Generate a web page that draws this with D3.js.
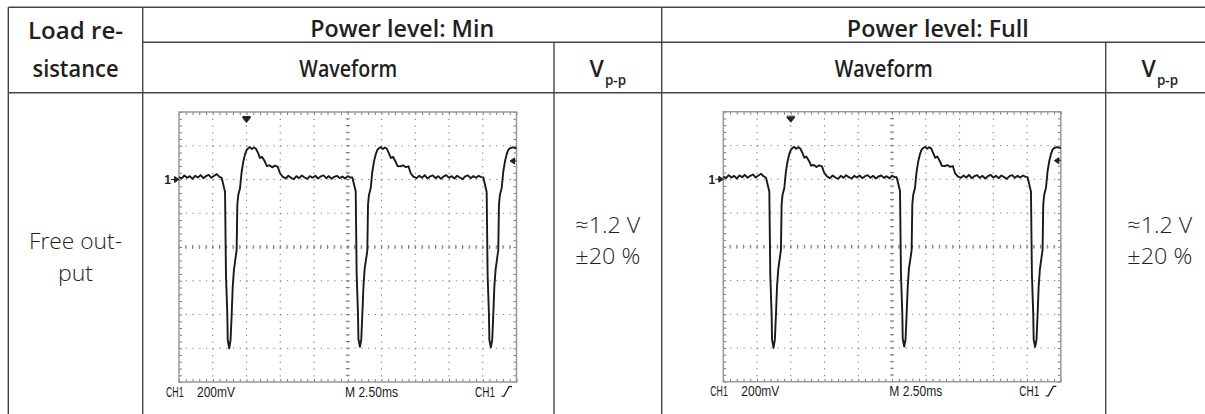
<!DOCTYPE html>
<html>
<head>
<meta charset="utf-8">
<script src="https://cdn.jsdelivr.net/npm/d3@7"></script>
<style>
  body { margin: 0; background: #fff; }
  svg { display: block; }
</style>
</head>
<body>
<svg id="chart"></svg>
<script>
// ---- table texts ----
const loadHeader = ["Load re-", "sistance"];
const powerLevels = ["Power level: Min", "Power level: Full"];
const waveHeader = "Waveform";
const vppHeader = ["V", "p-p"];
const rowLabel = ["Free out-", "put"];
const vppMin = ["≈1.2 V", "±20 %"];
const vppFull = ["≈1.2 V", "±20 %"];

// ---- scope screen texts ----
const scopeTexts = ["CH1", "200mV", "M 2.50ms", "CH1"];
const timeRange = [0, 25];        // ms (10 div x 2.5 ms)
const voltRange = [-1200, 400];   // mV, ground marker 2 div above centre
const triggerTime = 5;            // ms
const triggerLevel = 110;         // mV

// CH1 trace, [time ms, mV]
const traceMin = [
  [0, 15], [0.2, 6], [0.4, 24], [0.6, 10], [0.8, 20], [1.0, 4], [1.2, 22], [1.4, 12],
  [1.6, 26], [1.8, 8], [2.0, 20], [2.2, 28], [2.4, 10], [2.6, 22], [2.8, 32], [3.0, 16],
  [3.16, 10], [3.41, -74], [3.48, -566], [3.58, -803], [3.61, -951], [3.72, -1000],
  [3.82, -951], [3.90, -803], [3.98, -635], [4.07, -535], [4.22, -447], [4.27, -418],
  [4.32, -151], [4.39, -92], [4.52, -52], [4.64, 46], [4.76, 105], [4.89, 149], [5.01, 175],
  [5.13, 185], [5.25, 192], [5.4, 180], [5.55, 190], [5.7, 182], [5.87, 155], [6.0, 127],
  [6.15, 135], [6.37, 105], [6.5, 80], [6.7, 84], [6.9, 72], [7.1, 82], [7.31, 76],
  [7.48, 37], [7.68, 17],
  [7.9, 6], [8.1, 22], [8.3, 10], [8.5, 2], [8.7, 20], [8.9, 8], [9.1, 24], [9.3, 12],
  [9.5, 4], [9.7, 20], [9.9, 10], [10.1, 22], [10.3, 6], [10.5, 18], [10.7, 24], [10.9, 8],
  [11.1, 20], [11.3, 4], [11.5, 16], [11.7, 22], [11.9, 8], [12.1, 18], [12.3, 6], [12.5, 20],
  [12.7, 12],
  [12.84, 12], [13.09, -70], [13.16, -560], [13.26, -800], [13.29, -945], [13.40, -992],
  [13.50, -950], [13.58, -800], [13.66, -640], [13.75, -530], [13.90, -450], [13.95, -420],
  [14.00, -151], [14.07, -92], [14.20, -52], [14.32, 46], [14.44, 105], [14.57, 149],
  [14.69, 175], [14.81, 185], [14.95, 192], [15.1, 180], [15.25, 190], [15.4, 182],
  [15.55, 155], [15.70, 127], [15.85, 135], [16.05, 105], [16.18, 80], [16.4, 78],
  [16.6, 84], [16.8, 73], [17.0, 78], [17.16, 37], [17.36, 17],
  [17.6, 8], [17.8, 22], [18.0, 10], [18.2, 26], [18.4, 6], [18.6, 18], [18.8, 24], [19.0, 8],
  [19.2, 20], [19.4, 4], [19.6, 18], [19.8, 26], [20.0, 10], [20.2, 20], [20.4, 6], [20.6, 22],
  [20.8, 12], [21.0, 2], [21.2, 18], [21.4, 24], [21.6, 8], [21.8, 20], [22.0, 10], [22.2, 22],
  [22.4, 14],
  [22.54, 12], [22.79, -74], [22.86, -566], [22.96, -803], [22.99, -951], [23.10, -994],
  [23.20, -951], [23.28, -803], [23.36, -635], [23.45, -535], [23.60, -447], [23.65, -418],
  [23.70, -151], [23.77, -92], [23.90, -52], [24.02, 46], [24.14, 105], [24.27, 149],
  [24.39, 175], [24.51, 185], [24.7, 190], [25.0, 184]
];
// the Full capture looks the same as the Min one
const traceFull = traceMin;

// ---- layout ----
const W = 1205, H = 414;
const colX = [8.3, 142.7, 554, 661.7, 1105.7, 1214];
const rowY = [7.3, 42.3, 92.7, 440];
const scopeW = 337.5, scopeH = 270;
const lineColor = "#444";
const textColor = "#231f20";
const gridColor = "#7c7c7c";

const svg = d3.select("#chart").attr("width", W).attr("height", H);

// table rules
const hLines = [
  [colX[0], colX[5], rowY[0]],
  [colX[1], colX[5], rowY[1]],
  [colX[0], colX[5], rowY[2]]
];
const vLines = [
  [colX[0], rowY[0]], [colX[1], rowY[0]], [colX[2], rowY[1]],
  [colX[3], rowY[0]], [colX[4], rowY[1]], [colX[5], rowY[0]]
];
svg.selectAll(".hrule").data(hLines).enter().append("line")
  .attr("x1", d => d[0]).attr("x2", d => d[1])
  .attr("y1", d => d[2]).attr("y2", d => d[2])
  .attr("stroke", lineColor).attr("stroke-width", 1.4);
svg.selectAll(".vrule").data(vLines).enter().append("line")
  .attr("x1", d => d[0]).attr("x2", d => d[0])
  .attr("y1", d => d[1]).attr("y2", rowY[3])
  .attr("stroke", lineColor).attr("stroke-width", 1.4);

// header texts (widths fitted to the reference typeface)
const head = svg.append("g")
  .style("font-family", "'Open Sans', sans-serif")
  .style("font-weight", 600)
  .style("font-size", "22.5px")
  .attr("fill", textColor)
  .attr("text-anchor", "middle");

function fitText(g, x, y, str, len) {
  return g.append("text").attr("x", x).attr("y", y)
    .attr("textLength", len).attr("lengthAdjust", "spacingAndGlyphs")
    .text(str);
}

fitText(head, (colX[0] + colX[1]) / 2, 38.5, loadHeader[0], 95);
fitText(head, (colX[0] + colX[1]) / 2, 76.5, loadHeader[1], 86);
fitText(head, (colX[1] + colX[3]) / 2, 36.5, powerLevels[0], 184);
fitText(head, (colX[3] + colX[5]) / 2, 36.5, powerLevels[1], 182);
fitText(head, (colX[1] + colX[2]) / 2, 77, waveHeader, 98);
fitText(head, (colX[3] + colX[4]) / 2, 77, waveHeader, 98);

[[colX[2], colX[3]], [colX[4], colX[5]]].forEach(c => {
  const t = head.append("text").attr("x", (c[0] + c[1]) / 2).attr("y", 77);
  t.append("tspan").style("font-size", "23px").text(vppHeader[0]);
  t.append("tspan").attr("dy", 8).attr("dx", 1).style("font-size", "13.5px").text(vppHeader[1]);
});

// body texts
const body = svg.append("g")
  .style("font-family", "'Open Sans', sans-serif")
  .style("font-weight", 300)
  .style("font-size", "22.5px")
  .attr("fill", textColor)
  .attr("text-anchor", "middle");

fitText(body, (colX[0] + colX[1]) / 2, 249, rowLabel[0], 93);
fitText(body, (colX[0] + colX[1]) / 2, 280.5, rowLabel[1], 35);
[[colX[2], colX[3], vppMin], [colX[4], colX[5], vppFull]].forEach(c => {
  fitText(body, (c[0] + c[1]) / 2, 233, c[2][0], 65);
  fitText(body, (c[0] + c[1]) / 2, 264, c[2][1], 65);
});

// ---- oscilloscope screens ----
function drawScope(x0, y0, trace) {
  const g = svg.append("g").attr("transform", `translate(${x0},${y0})`);
  const x = d3.scaleLinear().domain(timeRange).range([0, scopeW]);
  const y = d3.scaleLinear().domain(voltRange).range([scopeH, 0]);

  const divT = d3.range(timeRange[0], timeRange[1] + 0.01, 2.5);
  const divV = d3.range(voltRange[0], voltRange[1] + 0.01, 200);
  const minorT = d3.range(timeRange[0], timeRange[1] + 0.01, 0.5);
  const minorV = d3.range(voltRange[0], voltRange[1] + 0.01, 40);
  const midT = (timeRange[0] + timeRange[1]) / 2;
  const midV = (voltRange[0] + voltRange[1]) / 2;

  // dotted graticule
  g.selectAll(".gv").data(divT.slice(1, -1)).enter().append("line")
    .attr("x1", d => x(d)).attr("x2", d => x(d))
    .attr("y1", 0).attr("y2", scopeH)
    .attr("stroke", gridColor).attr("stroke-width", 1.1)
    .attr("stroke-dasharray", "1.2 5.55");
  g.selectAll(".gh").data(divV.slice(1, -1)).enter().append("line")
    .attr("y1", d => y(d)).attr("y2", d => y(d))
    .attr("x1", 0).attr("x2", scopeW)
    .attr("stroke", gridColor).attr("stroke-width", 1.1)
    .attr("stroke-dasharray", "1.2 5.55");

  // centre cross ticks
  g.selectAll(".ct").data(minorT).enter().append("line")
    .attr("x1", d => x(d)).attr("x2", d => x(d))
    .attr("y1", y(midV) - 2).attr("y2", y(midV) + 2)
    .attr("stroke", gridColor).attr("stroke-width", 1);
  g.selectAll(".cv").data(minorV).enter().append("line")
    .attr("y1", d => y(d)).attr("y2", d => y(d))
    .attr("x1", x(midT) - 2).attr("x2", x(midT) + 2)
    .attr("stroke", gridColor).attr("stroke-width", 1);

  // border ticks via axes
  const noLab = () => "";
  const axes = [
    [d3.axisBottom(x).tickValues(minorT), `translate(0,0)`],
    [d3.axisTop(x).tickValues(minorT), `translate(0,${scopeH})`],
    [d3.axisRight(y).tickValues(minorV), `translate(0,0)`],
    [d3.axisLeft(y).tickValues(minorV), `translate(${scopeW},0)`]
  ];
  axes.forEach(a => {
    const ag = g.append("g").attr("transform", a[1])
      .call(a[0].tickSize(3).tickFormat(noLab));
    ag.select(".domain").remove();
    ag.selectAll("line").attr("stroke", gridColor);
  });

  g.append("rect").attr("width", scopeW).attr("height", scopeH)
    .attr("fill", "none").attr("stroke", "#999").attr("stroke-width", 1.5);

  // trace
  g.append("path").datum(trace)
    .attr("d", d3.line().x(d => x(d[0])).y(d => y(d[1])))
    .attr("fill", "none").attr("stroke", "#1a1a1a")
    .attr("stroke-width", 1.9).attr("stroke-linejoin", "round");

  // ground marker "1->"
  const gy = y(0);
  g.append("text").attr("x", -8).attr("y", gy + 4.5)
    .attr("text-anchor", "end")
    .style("font-family", "'Liberation Sans', sans-serif")
    .style("font-weight", 700).style("font-size", "12px")
    .attr("fill", "#222").text("1");
  g.append("path")
    .attr("d", `M-8,${gy}H-2 M0,${gy}l-4.5,-3v6z`)
    .attr("stroke", "#222").attr("stroke-width", 1).attr("fill", "#222");

  // trigger position arrow
  const tx = x(triggerTime);
  g.append("path")
    .attr("d", `M${tx - 4},4.5H${tx + 4} M${tx - 4},5.5H${tx + 4}L${tx},10.5z`)
    .attr("stroke", "#222").attr("stroke-width", 1).attr("fill", "#222");

  // trigger level arrow
  const ty = y(triggerLevel);
  g.append("path")
    .attr("d", `M${scopeW - 6.5},${ty}l4.5,-3v6z M${scopeW - 3},${ty}H${scopeW}`)
    .attr("stroke", "#222").attr("stroke-width", 1).attr("fill", "#222");

  // readouts
  const lab = g.append("g")
    .style("font-family", "'Liberation Sans', sans-serif")
    .style("font-size", "15px")
    .attr("fill", "#1a1a1a");
  const by = scopeH + 14.7;
  const readouts = [
    [scopeTexts[0], -13, 17.5],
    [scopeTexts[1], 18, 38],
    [scopeTexts[2], 166, 53],
    [scopeTexts[3], 296, 20]
  ];
  readouts.forEach(r => {
    lab.append("text").attr("x", r[1]).attr("y", by)
      .attr("textLength", r[2]).attr("lengthAdjust", "spacingAndGlyphs")
      .text(r[0]);
  });
  // rising-edge symbol
  g.append("path")
    .attr("d", `M${322.5},${by - 0.5}h2.5l5,-9.5h3`)
    .attr("fill", "none").attr("stroke", "#1a1a1a").attr("stroke-width", 1.3);
}

drawScope(179, 112, traceMin);
drawScope(723.3, 111.7, traceFull);
</script>
</body>
</html>
